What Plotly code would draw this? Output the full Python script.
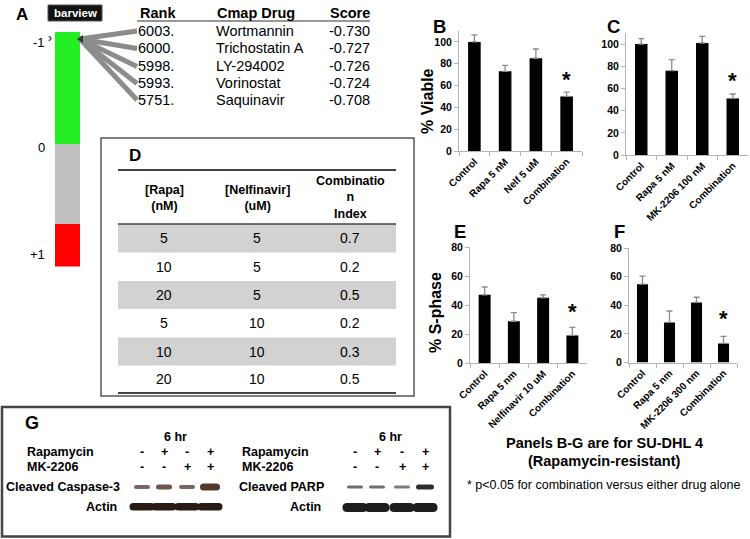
import plotly.graph_objects as go

W, H = 750, 539
FONT = "Arial, Liberation Sans, Helvetica, sans-serif"

# ---------------- data ----------------
# Panel A: connectivity-map hits
cmap_rank = ["6003.", "6000.", "5998.", "5993.", "5751."]
cmap_drug = ["Wortmannin", "Trichostatin A", "LY-294002", "Vorinostat", "Saquinavir"]
cmap_score = ["-0.730", "-0.727", "-0.726", "-0.724", "-0.708"]
barview_labels = ["-1", "0", "+1"]

# Panel B: % viable
b_cats = ["Control", "Rapa 5 nM", "Nelf 5 uM", "Combination"]
b_vals = [100, 73, 85, 50]
b_err = [6.5, 5.5, 8.5, 4]
b_star = 70

# Panel C: % viable
c_cats = ["Control", "Rapa 5 nM", "MK-2206 100 nM", "Combination"]
c_vals = [100, 76, 101, 51]
c_err = [5, 10, 6, 4]
c_star = 72

# Panel E: % S-phase
e_cats = ["Control", "Rapa 5 nm", "Nelfinavir 10 uM", "Combination"]
e_vals = [47, 28.8, 45, 19]
e_err = [5.4, 6, 2, 5.6]
e_star = 39

# Panel F: % S-phase
f_cats = ["Control", "Rapa 5 nm", "MK-2206 300 nm", "Combination"]
f_vals = [54.7, 28, 42, 13.3]
f_err = [5.6, 8, 3.6, 5]
f_star = 34.5

# Panel D: combination index table
d_headers = ["[Rapa]<br>(nM)", "[Nelfinavir]<br>(uM)", "Combinatio<br>n<br>Index"]
d_rapa = ["5", "10", "20", "5", "10", "20"]
d_nelf = ["5", "5", "5", "10", "10", "10"]
d_ci = ["0.7", "0.2", "0.5", "0.2", "0.3", "0.5"]

# Panel G: western blots
g_rapa = ["-", "+", "-", "+"]
g_mk = ["-", "-", "+", "+"]
casp_intensity = [0.72, 0.8, 0.72, 0.95]
casp_height = [4, 5, 4, 7]
parp_intensity = [0.65, 0.65, 0.6, 0.95]
parp_height = [3, 3, 3, 5]

# ---------------- helpers ----------------
def px(x):
    return x / W

def py(y):
    return 1 - y / H

shapes = []
ann = []

def text(x, y, s, size, bold=False, anchor="center", color="black", angle=0):
    ann.append(dict(x=px(x), y=py(y), xref="paper", yref="paper",
                    text=f"<b>{s}</b>" if bold else s, showarrow=False,
                    xanchor=anchor, yanchor="middle", textangle=angle,
                    font=dict(family=FONT, size=size, color=color)))

def rect(x0, y0, x1, y1, fill, line_color=None, lw=0, opacity=1.0):
    shapes.append(dict(type="rect", xref="paper", yref="paper",
                       x0=px(x0), x1=px(x1), y0=py(y1), y1=py(y0),
                       fillcolor=fill, opacity=opacity,
                       line=dict(color=line_color or fill, width=lw)))

def band(x0, y0, x1, y1, fill, opacity=1.0):
    r = (y1 - y0) / 2
    path = (f"M {px(x0 + r)} {py(y0)} L {px(x1 - r)} {py(y0)} "
            f"Q {px(x1)} {py(y0)} {px(x1)} {py((y0 + y1) / 2)} "
            f"Q {px(x1)} {py(y1)} {px(x1 - r)} {py(y1)} "
            f"L {px(x0 + r)} {py(y1)} "
            f"Q {px(x0)} {py(y1)} {px(x0)} {py((y0 + y1) / 2)} "
            f"Q {px(x0)} {py(y0)} {px(x0 + r)} {py(y0)} Z")
    shapes.append(dict(type="path", xref="paper", yref="paper", path=path,
                       fillcolor=fill, opacity=opacity, line=dict(width=0)))

def line(x0, y0, x1, y1, color, w):
    shapes.append(dict(type="line", xref="paper", yref="paper",
                       x0=px(x0), y0=py(y0), x1=px(x1), y1=py(y1),
                       line=dict(color=color, width=w)))

def frame(x0, y0, x1, y1, color, w):
    shapes.append(dict(type="rect", xref="paper", yref="paper",
                       x0=px(x0), x1=px(x1), y0=py(y1), y1=py(y0),
                       fillcolor="rgba(0,0,0,0)", line=dict(color=color, width=w)))

fig = go.Figure()
layout = {}

# ---------------- Panel A ----------------
text(22, 14, "A", 17, bold=True)
rect(48, 5, 102, 21, "#111111", "#555555", 1)
text(75, 13, "barview", 11.5, bold=True, color="white")
rect(55, 32, 80, 144, "#22ee22")
rect(55, 144, 80, 224, "#c0c0c0")
rect(55, 224, 80, 266.5, "#ff0000")
text(47, 43, barview_labels[0], 13, anchor="right")
text(50.5, 38, "›", 12)
text(47, 147, barview_labels[1], 13, anchor="right")
text(47, 254, barview_labels[2], 13, anchor="right")

row_y = [31, 48.5, 66.5, 83.5, 100]
for ry in row_y:
    line(80, 39, 137, ry, "#8c8c8c", 5)
shapes.append(dict(type="path", xref="paper", yref="paper",
                   path=f"M {px(77)} {py(39)} L {px(83)} {py(35)} L {px(83)} {py(43)} Z",
                   fillcolor="#333333", line=dict(width=0)))

text(138, 13, "Rank", 14.5, bold=True, anchor="left")
text(215, 13, "Cmap Drug", 14.5, bold=True, anchor="left")
text(328, 13, "Score", 14.5, bold=True, anchor="left")
line(137, 21, 370, 21, "#333333", 1.2)
for i, ry in enumerate(row_y):
    text(136, ry, cmap_rank[i], 14.5, anchor="left")
    text(214, ry, cmap_drug[i], 14.5, anchor="left")
    text(327, ry, cmap_score[i], 14.5, anchor="left")

# ---------------- Panel D ----------------
frame(101, 138, 414, 396, "#555555", 1.5)
text(135, 155, "D", 17, bold=True)
d_row_edges = [224, 252.5, 281, 309, 337.5, 365.5, 393]
for i in range(6):
    if i % 2 == 0:
        rect(118, d_row_edges[i], 396, d_row_edges[i + 1], "#d2d2d2")
line(118, 170, 396, 170, "#444444", 2)
line(118, 224, 396, 224, "#444444", 1.5)
line(118, 393, 396, 393, "#444444", 2)
d_cols = [164, 257, 350]
text(d_cols[0], 198, d_headers[0], 12.5, bold=True)
text(d_cols[1], 198, d_headers[1], 12.5, bold=True)
text(d_cols[2], 197, d_headers[2], 12.5, bold=True)
for i in range(6):
    cy = (d_row_edges[i] + d_row_edges[i + 1]) / 2
    text(d_cols[0], cy, d_rapa[i], 14)
    text(d_cols[1], cy, d_nelf[i], 14)
    text(d_cols[2], cy, d_ci[i], 14)

# ---------------- Panel G ----------------
frame(2, 407, 450, 536.5, "#444444", 2.5)
text(32, 423, "G", 18, bold=True)

def blot(label_x, lanes, name, hdr_x, sign_left):
    text(hdr_x, 437, "6 hr", 12.5, bold=True)
    text(sign_left, 452, "Rapamycin", 12.5, bold=True, anchor="left")
    text(sign_left, 467, "MK-2206", 12.5, bold=True, anchor="left")
    for j, lx in enumerate(lanes):
        text(lx, 452, g_rapa[j], 12.5, bold=True)
        text(lx, 467, g_mk[j], 12.5, bold=True)
    text(label_x, 487, name, 12.5, bold=True, anchor="right")
    text(label_x - 3, 506.5, "Actin", 12.5, bold=True, anchor="right")

left_lanes = [142, 164, 187, 210]
right_lanes = [355, 377, 402, 425]
blot(122, left_lanes, "Cleaved Caspase-3", 175, 25)
blot(326, right_lanes, "Cleaved PARP", 390, 240)

for j, lx in enumerate(left_lanes):
    hw = 8 + (2 if j == 3 else 0)
    h = casp_height[j]
    band(lx - hw, 487 - h / 2, lx + hw, 487 + h / 2, "#4a2c20", opacity=casp_intensity[j])
    band(lx - 12.5, 503, lx + 12.5, 510.5, "#2a1a14")
for j, lx in enumerate(right_lanes):
    hw = 8 + (1 if j == 3 else 0)
    h = parp_height[j]
    band(lx - hw, 487 - h / 2, lx + hw, 487 + h / 2, "#222222", opacity=parp_intensity[j])
    band(lx - 12.5, 503, lx + 12.5, 512, "#1e1e1e")

# ---------------- bottom-right notes ----------------
text(604, 443, "Panels B-G are for SU-DHL 4", 14.5, bold=True)
text(604, 461, "(Rapamycin-resistant)", 14.5, bold=True)
text(603, 485, "* p<0.05 for combination versus either drug alone", 12.5)

# ---------------- bar panels ----------------
panels = [
    (b_cats, b_vals, b_err, b_star, (459, 582), (31, 151), 110, "B", (439, 27)),
    (c_cats, c_vals, c_err, c_star, (626, 748), (33, 155), 110, "C", (613, 27)),
    (e_cats, e_vals, e_err, e_star, (470, 587), (247, 363), 80, "E", (460, 231)),
    (f_cats, f_vals, f_err, f_star, (629, 737), (248, 362.5), 80, "F", (619, 231)),
]
for i, (cats, vals, err, star, xd, yd, ymax, letter, lpos) in enumerate(panels):
    n = "" if i == 0 else str(i + 1)
    fig.add_trace(go.Bar(
        x=cats, y=vals, xaxis="x" + n, yaxis="y" + n,
        marker=dict(color="black", line=dict(width=0)),
        error_y=dict(type="data", array=err, arrayminus=[0] * len(err),
                     symmetric=False, color="#8c8c8c", thickness=1.3, width=3),
        showlegend=False, hoverinfo="skip"))
    layout["xaxis" + n] = dict(
        domain=[px(xd[0]), px(xd[1])], anchor="y" + n, type="category",
        tickangle=-45, ticks="outside", tickson="boundaries", ticklen=4,
        tickcolor="#b4b4b4", showline=True, linecolor="#b4b4b4", linewidth=1,
        showgrid=False, zeroline=False, automargin=False, fixedrange=True,
        tickfont=dict(family=FONT, size=10, color="black", weight="bold"))
    layout["yaxis" + n] = dict(
        domain=[py(yd[1]), py(yd[0])], anchor="x" + n, range=[0, ymax],
        tick0=0, dtick=20, ticks="outside", ticklen=4, tickcolor="#b4b4b4",
        showline=True, linecolor="#b4b4b4", linewidth=1, showgrid=False,
        zeroline=False, automargin=False, fixedrange=True,
        tickfont=dict(family=FONT, size=10.5, color="black", weight="bold"))
    ann.append(dict(x=cats[-1], y=star, xref="x" + n, yref="y" + n, text="<b>*</b>",
                    showarrow=False, yshift=-5,
                    font=dict(family=FONT, size=22, color="black")))
    text(lpos[0], lpos[1], letter, 18.5, bold=True)

text(427, 101, "% Viable", 16, bold=True, angle=-90)
text(435, 312, "% S-phase", 16, bold=True, angle=-90)

fig.update_layout(
    width=W, height=H, margin=dict(l=0, r=0, t=0, b=0),
    paper_bgcolor="white", plot_bgcolor="white",
    bargap=0.59, showlegend=False,
    shapes=shapes, annotations=ann, **layout)

fig.write_html("out.html", config={"displayModeBar": False},
               post_script="document.body.style.margin='0px';document.body.style.overflow='hidden';")
